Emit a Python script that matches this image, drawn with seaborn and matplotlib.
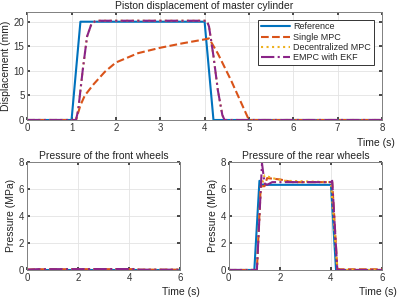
import numpy as np
import pandas as pd
import seaborn as sns
import matplotlib
matplotlib.use("Agg")
import matplotlib.pyplot as plt

# ---- data ----
names = ['Reference', 'Single MPC', 'Decentralized MPC', 'EMPC with EKF']
colors = ['#0072BD', '#D95319', '#EDB120', '#8A2488']
styles = ['-', '--', ':', '-.']

# piston displacement of master cylinder (mm)
disp_ref_t = [0, 1.0, 1.2, 4.0, 4.2, 8]
disp_ref_y = [0, 0, 20, 20, 0, 0]
disp_smpc_t = [0, 1.1, 1.2, 1.3, 1.5, 1.75, 2.0, 2.5, 3.0, 3.5, 4.0, 4.1, 4.3, 4.6, 5.0, 8]
disp_smpc_y = [0, 0, 3, 5, 7.3, 9.8, 11.7, 13.6, 14.7, 15.6, 16.4, 16.6, 13.5, 8, 0, 0]
disp_dmpc_t = [0, 1.1, 1.15, 1.25, 1.35, 1.45, 1.55, 4.05, 4.1, 4.2, 4.3, 4.4, 4.45, 8]
disp_dmpc_y = [0, 0, 2, 10, 17, 19.6, 20.2, 20.2, 19, 13, 6, 1, 0, 0]
disp_empc_t = [0, 1.1, 1.15, 1.25, 1.35, 1.45, 1.55, 4.05, 4.1, 4.2, 4.3, 4.4, 4.45, 8]
disp_empc_y = [0, 0, 2, 10, 17, 19.6, 20.2, 20.2, 19, 13, 6, 1, 0, 0]

# pressure of the front wheels (MPa)
front_t = [0, 0.4, 4.2, 4.4, 6]
front_ref_y = [0, 0, 0, 0, 0]
front_smpc_y = [0.03, 0.05, 0.06, 0.02, 0.02]
front_dmpc_y = [0.02, 0.05, 0.06, 0.02, 0.02]
front_empc_y = [0.02, 0.06, 0.07, 0.02, 0.02]

# pressure of the rear wheels (MPa)
rear_ref_t = [0, 1.0, 1.2, 1.3, 4.0, 4.2, 6]
rear_ref_y = [0, 0, 6.6, 6.3, 6.3, 0, 0]
rear_smpc_t = [0, 1.1, 1.25, 1.4, 1.5, 2.0, 2.5, 4.05, 4.25, 4.35, 6]
rear_smpc_y = [0, 0, 6.2, 6.2, 6.8, 6.7, 6.5, 6.5, 0.1, 0.05, 0.05]
rear_dmpc_t = [0, 1.1, 1.25, 1.4, 1.7, 2.2, 4.0, 4.25, 6]
rear_dmpc_y = [0, 0, 6.0, 7.0, 6.8, 6.6, 6.5, 0, 0]
rear_empc_t = [0, 1.1, 1.3, 1.4, 1.5, 1.7, 4.0, 4.05, 4.25, 6]
rear_empc_y = [0, 0, 7.9, 6.4, 6.3, 6.5, 6.5, 6.6, 0, 0]


def frame(series):
    rows = []
    for name, (t, y) in zip(names, series):
        for a, b in zip(t, y):
            rows.append((name, a, b))
    return pd.DataFrame(rows, columns=['series', 'time', 'value'])


sns.set_theme(style='whitegrid')
plt.rcParams['font.family'] = ['Liberation Sans', 'DejaVu Sans']
plt.rcParams['font.size'] = 7

fig = plt.figure(figsize=(4.0, 2.97), dpi=100)
ax_top = fig.add_axes([0.068, 0.596, 0.887, 0.364])
ax_fl = fig.add_axes([0.068, 0.091, 0.382, 0.364])
ax_rr = fig.add_axes([0.572, 0.091, 0.383, 0.364])

panels = [
    (ax_top, frame([(disp_ref_t, disp_ref_y), (disp_smpc_t, disp_smpc_y),
                    (disp_dmpc_t, disp_dmpc_y), (disp_empc_t, disp_empc_y)]),
     'Piston displacement of master cylinder', 'Displacement (mm)', (0, 8), (0, 22),
     range(0, 9), [0, 5, 10, 15, 20], 1.035, -0.165),
    (ax_fl, frame([(front_t, front_ref_y), (front_t, front_smpc_y),
                   (front_t, front_dmpc_y), (front_t, front_empc_y)]),
     'Pressure of the front wheels', 'Pressure (MPa)', (0, 6), (0, 8),
     [0, 2, 4, 6], [0, 2, 4, 6, 8], 1.13, -0.155),
    (ax_rr, frame([(rear_ref_t, rear_ref_y), (rear_smpc_t, rear_smpc_y),
                   (rear_dmpc_t, rear_dmpc_y), (rear_empc_t, rear_empc_y)]),
     'Pressure of the rear wheels', 'Pressure (MPa)', (0, 6), (0, 8),
     [0, 2, 4, 6], [0, 2, 4, 6, 8], 1.1, -0.155),
]

for ax, df, title, ylabel, xl, yl, xt, yt, lx, ly in panels:
    for name, c, ls in zip(names, colors, styles):
        sub = df[df['series'] == name]
        sns.lineplot(data=sub, x='time', y='value', ax=ax, color=c,
                     linestyle=ls, linewidth=1.5, label=name, estimator=None,
                     sort=False)
    ax.set_xlim(*xl)
    ax.set_ylim(*yl)
    ax.set_xticks(list(xt))
    ax.set_yticks(yt)
    ax.set_title(title, fontsize=7.5, color='#222222', pad=2)
    ax.set_ylabel(ylabel, fontsize=7.5, color='#222222', labelpad=2)
    ax.set_xlabel('Time (s)', fontsize=7.5, color='#222222', ha='right')
    ax.xaxis.set_label_coords(lx, ly)
    ax.tick_params(direction='in', length=2.5, labelsize=7, colors='#333333',
                   pad=2, top=True, right=True, bottom=True, left=True)
    ax.grid(True, color='#e3e3e3', linewidth=0.6)
    for s in ax.spines.values():
        s.set_visible(True)
        s.set_color('#808080')
        s.set_linewidth(0.7)
    if ax is ax_top:
        leg = ax.legend(loc='upper right', fontsize=6.5, frameon=True,
                        fancybox=False, edgecolor='#333333', framealpha=1,
                        handlelength=3.2, borderpad=0.3, labelspacing=0.15,
                        handletextpad=0.4, bbox_to_anchor=(0.99, 0.97))
        leg.get_frame().set_linewidth(0.7)
    else:
        ax.get_legend().remove()

fig.savefig('out.png', dpi=100, facecolor='white')
